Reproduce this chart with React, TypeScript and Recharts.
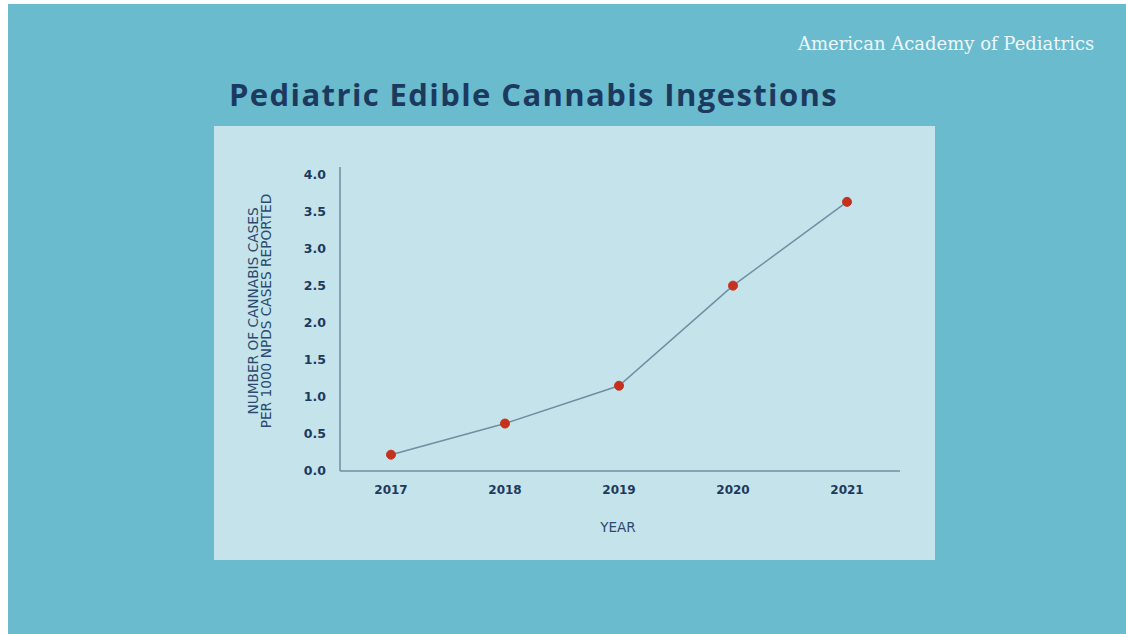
import React from "react";
import { LineChart, Line, XAxis, YAxis } from "recharts";

const years = ["2017", "2018", "2019", "2020", "2021"];
const casesPer1000 = [0.22, 0.64, 1.15, 2.5, 3.63];
const yTicks = [0, 0.5, 1, 1.5, 2, 2.5, 3, 3.5, 4];

const data = years.map((y, i) => ({ year: y, value: casesPer1000[i] }));

const NAVY = "#1c3a5e";
const LABEL = "#2b4a6e";
const FONT = "'Open Sans', 'Noto Sans', sans-serif";
const WIDE = "'DejaVu Sans', 'Noto Sans', sans-serif";

const YLabel = (props: any) => {
  const vb = props.viewBox || { x: 0, y: 0, width: 0, height: 0 };
  const x1 = vb.x + 39;
  const x2 = vb.x + 52;
  const yc = 185;
  return (
    <g>
      <text
        x={x1}
        y={yc}
        transform={`rotate(-90, ${x1}, ${yc})`}
        textAnchor="middle"
        dominantBaseline="central"
        fill={LABEL}
        fontFamily={WIDE}
        fontSize={13.7}
      >
        NUMBER OF CANNABIS CASES
      </text>
      <text
        x={x2}
        y={yc}
        transform={`rotate(-90, ${x2}, ${yc})`}
        textAnchor="middle"
        dominantBaseline="central"
        fill={LABEL}
        fontFamily={WIDE}
        fontSize={13.7}
      >
        PER 1000 NPDS CASES REPORTED
      </text>
    </g>
  );
};

const XLabel = (props: any) => {
  const vb = props.viewBox || { x: 0, y: 0, width: 0, height: 0 };
  return (
    <text
      x={vb.x + vb.width / 2 - 2}
      y={vb.y + 61}
      textAnchor="middle"
      fill={LABEL}
      fontFamily={WIDE}
      fontSize={13.5}
    >
      YEAR
    </text>
  );
};

export default function App() {
  return (
    <div
      style={{
        position: "absolute",
        left: 8,
        top: 4,
        width: 1118,
        height: 630,
        background: "#6bbbcf",
        overflow: "hidden",
      }}
    >
      <div
        style={{
          position: "absolute",
          left: 790,
          top: 29,
          fontFamily: "'DejaVu Serif', 'Liberation Serif', serif",
          fontSize: 18,
          color: "#eef7fa",
          whiteSpace: "nowrap",
        }}
      >
        American Academy of Pediatrics
      </div>
      <div
        style={{
          position: "absolute",
          left: 221,
          top: 69,
          fontFamily: FONT,
          fontWeight: 700,
          fontSize: 31,
          color: NAVY,
          whiteSpace: "nowrap",
          letterSpacing: 1.4,
        }}
      >
        Pediatric Edible Cannabis Ingestions
      </div>
      <div
        style={{
          position: "absolute",
          left: 206,
          top: 122,
          width: 721,
          height: 434,
          background: "#c5e3eb",
        }}
      >
        <LineChart
          width={721}
          height={434}
          data={data}
          margin={{ top: 41, right: 35, bottom: 29, left: 0 }}
        >
          <XAxis
            dataKey="year"
            height={60}
            padding={{ left: 51, right: 53 }}
            axisLine={{ stroke: "#6e8fa2", strokeWidth: 1.5 }}
            tickLine={false}
            tickSize={6}
            tickMargin={8}
            tick={{ fill: NAVY, fontFamily: WIDE, fontWeight: 700, fontSize: 12 }}
            label={<XLabel />}
          />
          <YAxis
            width={126}
            domain={[0, 4.1]}
            ticks={yTicks}
            allowDataOverflow
            axisLine={{ stroke: "#6e8fa2", strokeWidth: 1.5 }}
            tickLine={false}
            tickSize={6}
            tickMargin={8}
            tickFormatter={(v: number) => v.toFixed(1)}
            tick={{ fill: NAVY, fontFamily: WIDE, fontWeight: 700, fontSize: 12.5 }}
            label={<YLabel />}
          />
          <Line
            type="linear"
            dataKey="value"
            stroke="#6e8fa2"
            strokeWidth={1.5}
            dot={{ r: 4.5, fill: "#c6311d", stroke: "#c6311d", strokeWidth: 1 }}
            activeDot={false}
            isAnimationActive={false}
          />
        </LineChart>
      </div>
    </div>
  );
}
